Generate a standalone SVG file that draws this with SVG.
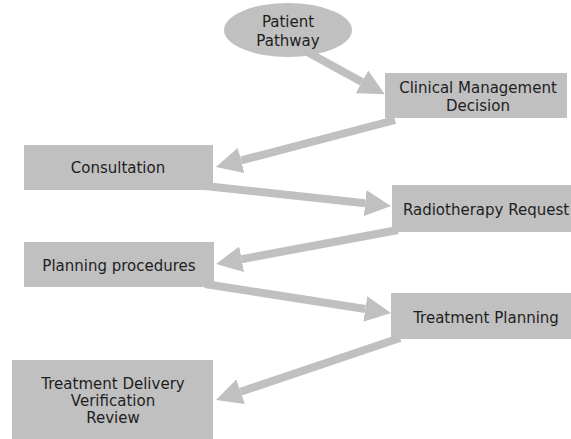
<svg xmlns="http://www.w3.org/2000/svg" width="571" height="439" viewBox="0 0 571 439">
<style>
.n{fill:#c0c0c0}
.t{font-family:"DejaVu Sans","Verdana",sans-serif;font-size:15px;fill:#1e1e1e;text-anchor:middle}
.c{stroke:#c0c0c0;stroke-width:8;fill:none;marker-end:url(#ah)}
</style>
<defs>
<marker id="ah" markerUnits="userSpaceOnUse" markerWidth="26" markerHeight="26" refX="0" refY="13" orient="auto">
<path d="M0,0 L26,13 L0,26 Z" fill="#c0c0c0"/>
</marker>
</defs>
<rect width="571" height="439" fill="#ffffff"/>
<g id="connectors">
<line class="c" x1="300" y1="48" x2="362" y2="81.9"/>
<line class="c" x1="395" y1="120" x2="241.1" y2="160.4"/>
<line class="c" x1="205" y1="186" x2="365.2" y2="203.2"/>
<line class="c" x1="398" y1="230" x2="241.6" y2="259.2"/>
<line class="c" x1="205" y1="284" x2="365.3" y2="309"/>
<line class="c" x1="400" y1="338" x2="240.6" y2="391.7"/>
</g>
<g id="patient-pathway">
<ellipse class="n" cx="288" cy="30" rx="64" ry="27"/>
<text class="t" x="288" y="27">Patient</text>
<text class="t" x="288" y="46">Pathway</text>
</g>
<g id="clinical-management">
<rect class="n" x="385" y="73" width="182" height="45"/>
<text class="t" x="478" y="93">Clinical Management</text>
<text class="t" x="478" y="110.5">Decision</text>
</g>
<g id="consultation">
<rect class="n" x="24" y="145" width="189" height="45"/>
<text class="t" x="118" y="173">Consultation</text>
</g>
<g id="radiotherapy-request">
<rect class="n" x="392" y="185" width="179" height="47"/>
<text class="t" x="486" y="214.5">Radiotherapy Request</text>
</g>
<g id="planning-procedures">
<rect class="n" x="24" y="242" width="190" height="45"/>
<text class="t" x="119" y="271">Planning procedures</text>
</g>
<g id="treatment-planning">
<rect class="n" x="391" y="293" width="180" height="46"/>
<text class="t" x="486" y="323">Treatment Planning</text>
</g>
<g id="treatment-delivery">
<rect class="n" x="12" y="360" width="201" height="79"/>
<text class="t" x="113" y="388.5">Treatment Delivery</text>
<text class="t" x="113" y="405.5">Verification</text>
<text class="t" x="113" y="422.5">Review</text>
</g>
</svg>
